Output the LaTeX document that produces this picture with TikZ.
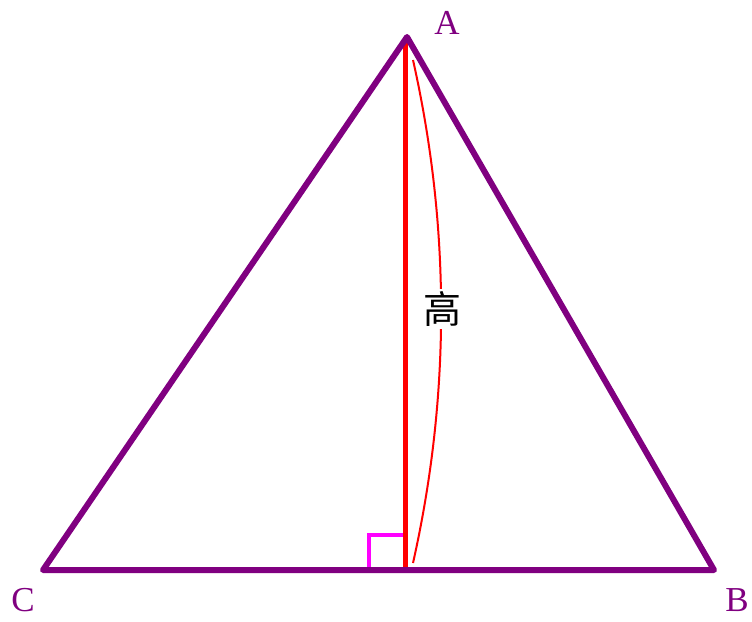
\documentclass[tikz,border=0pt]{standalone}
\usepackage{fontspec}
\setmainfont{Liberation Serif}
\newfontfamily\cjk{Noto Sans CJK SC}
\definecolor{tripurple}{RGB}{128,0,128}
\definecolor{hred}{RGB}{255,0,0}
\definecolor{rmag}{RGB}{255,0,255}
\begin{document}
\begin{tikzpicture}[x=1pt,y=-1pt,
  side/.style={draw=tripurple,line width=6pt,line join=round},
  vlabel/.style={text=tripurple,font=\fontsize{35}{35}\selectfont,inner sep=0pt},
  heightline/.style={draw=hred,line width=5pt},
  bracearc/.style={draw=hred,line width=2pt},
  rightmark/.style={draw=rmag,line width=4pt}]
\useasboundingbox (0,0) rectangle (752,621);
\coordinate (A) at (407,37);
\coordinate (C) at (43,570);
\coordinate (B) at (714,570);
\coordinate (D) at (405,570);
\coordinate (Atop) at (405,42);
\coordinate (ArcS) at (413,60);
\coordinate (ArcE) at (413,563);
\coordinate (M1) at (369,570);
\coordinate (M2) at (369,535);
\coordinate (M3) at (403,535);
% height
\draw[heightline] (Atop) -- (D);
% right-angle mark
\draw[rightmark] (M1) -- (M2) -- (M3);
% brace arc
\draw[bracearc] (ArcS) .. controls (450.5,227) and (450.5,396) .. (ArcE);
% triangle
\draw[side] (A) -- (B) -- (C) -- cycle;
% labels
\node[fill=white,inner sep=2pt,font=\cjk\fontsize{38}{38}\selectfont] (h) at (442,309) {高};
\node[vlabel] (la) at (447,23) {A};
\node[vlabel] (lc) at (23,600) {C};
\node[vlabel] (lb) at (737,600) {B};
\end{tikzpicture}
\end{document}
